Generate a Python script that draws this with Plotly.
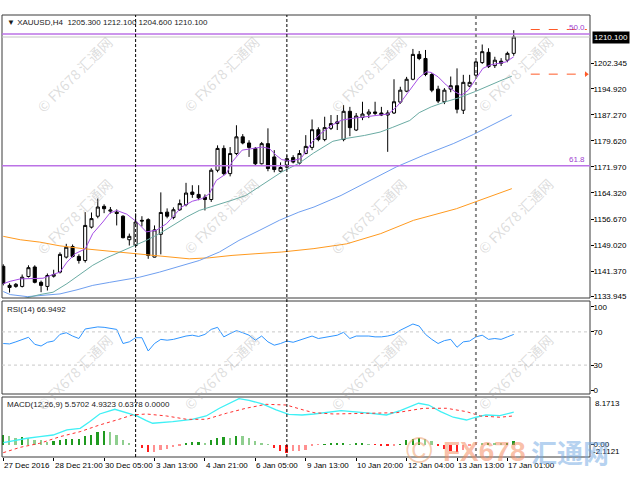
import plotly.graph_objects as go

# ---------------- data ----------------
bars = list(range(82))
opens = [1142.8, 1137.2, 1136.9, 1136.9, 1139.8, 1142.6, 1138.1, 1136.9, 1139.9, 1141.1,
         1145.5, 1148.6, 1145.7, 1144.5, 1154.3, 1157.5, 1160.4, 1159.0, 1158.7, 1157.5,
         1150.6, 1148.9, 1156.3, 1156.5, 1145.5, 1152.2, 1158.7, 1157.1, 1159.4, 1160.9,
         1164.6, 1163.9, 1163.1, 1162.4, 1171.0, 1177.4, 1170.0, 1175.9, 1180.8, 1179.0,
         1177.4, 1172.9, 1178.8, 1174.9, 1170.7, 1171.9, 1174.7, 1173.1, 1175.9, 1177.7,
         1182.9, 1180.0, 1183.3, 1184.7, 1180.0, 1188.3, 1182.8, 1186.5, 1187.5, 1188.1,
         1187.8, 1187.2, 1187.8, 1191.0, 1194.2, 1197.7, 1205.0, 1203.8, 1199.1, 1194.8,
         1191.1, 1194.8, 1195.8, 1188.6, 1195.7, 1198.9, 1202.6, 1205.6, 1201.7, 1203.0,
         1203.3, 1205.3]
highs = [1143.4, 1137.8, 1137.9, 1140.4, 1143.1, 1143.1, 1138.6, 1140.7, 1141.8, 1146.9,
         1149.4, 1149.2, 1146.3, 1158.7, 1158.6, 1162.7, 1161.0, 1160.2, 1159.5, 1157.8,
         1152.4, 1158.3, 1157.5, 1156.9, 1154.8, 1164.5, 1159.8, 1160.1, 1162.4, 1167.3,
         1166.6, 1166.6, 1163.9, 1171.6, 1178.3, 1178.3, 1177.8, 1184.2, 1181.6, 1179.8,
         1177.8, 1179.3, 1183.3, 1176.9, 1173.3, 1175.4, 1175.4, 1176.9, 1181.3, 1185.9,
         1183.6, 1186.7, 1187.2, 1187.2, 1190.1, 1189.6, 1187.8, 1191.1, 1188.9, 1191.1,
         1189.6, 1188.6, 1197.7, 1195.5, 1198.4, 1206.6, 1206.0, 1206.3, 1199.5, 1195.8,
         1195.1, 1198.5, 1200.9, 1199.0, 1199.0, 1203.9, 1207.9, 1206.8, 1204.3, 1203.9,
         1205.8, 1212.1]
lows = [1137.2, 1135.1, 1136.5, 1136.6, 1139.5, 1137.8, 1135.2, 1135.7, 1139.5, 1140.7,
        1145.1, 1145.4, 1143.6, 1143.9, 1153.9, 1156.9, 1158.4, 1158.3, 1154.8, 1151.0,
        1148.9, 1148.3, 1154.5, 1145.0, 1145.4, 1146.3, 1156.9, 1156.6, 1159.1, 1160.4,
        1162.9, 1162.2, 1159.2, 1161.7, 1170.4, 1169.5, 1169.2, 1175.4, 1178.6, 1174.9,
        1172.5, 1172.7, 1170.7, 1170.4, 1170.4, 1171.5, 1173.0, 1172.7, 1175.7, 1176.9,
        1179.5, 1179.5, 1182.8, 1182.8, 1179.5, 1181.0, 1182.5, 1185.7, 1186.3, 1187.2,
        1186.9, 1176.4, 1187.5, 1190.5, 1193.9, 1197.4, 1203.3, 1198.6, 1193.9, 1190.7,
        1190.4, 1193.9, 1187.7, 1187.5, 1195.4, 1198.0, 1202.2, 1201.0, 1201.0, 1201.6,
        1202.7, 1204.6]
closes = [1137.8, 1136.6, 1137.5, 1139.6, 1142.4, 1138.1, 1137.2, 1140.1, 1140.4, 1146.3,
          1148.4, 1145.7, 1144.5, 1154.8, 1156.8, 1160.2, 1159.7, 1159.3, 1158.3, 1151.2,
          1151.6, 1155.8, 1156.1, 1146.0, 1153.5, 1158.6, 1157.5, 1159.4, 1161.2, 1164.3,
          1163.9, 1162.9, 1162.4, 1171.0, 1177.4, 1170.0, 1175.9, 1180.8, 1179.0, 1177.7,
          1172.9, 1178.8, 1171.5, 1171.2, 1171.8, 1174.4, 1173.4, 1175.9, 1178.0, 1182.9,
          1180.0, 1183.5, 1184.7, 1185.2, 1188.3, 1183.5, 1186.9, 1187.5, 1188.1, 1187.7,
          1187.2, 1187.8, 1191.1, 1194.5, 1197.7, 1205.0, 1203.8, 1199.1, 1194.5, 1191.3,
          1194.5, 1195.8, 1188.9, 1196.8, 1196.8, 1202.8, 1205.8, 1201.4, 1203.3, 1202.4,
          1205.3, 1210.1]

tick_bars = [0, 8, 16, 24, 32, 40, 48, 56, 64, 72, 80]
tick_labels = ["27 Dec 2016", "28 Dec 21:00", "30 Dec 05:00", "3 Jan 13:00", "4 Jan 21:00",
               "6 Jan 05:00", "9 Jan 13:00", "10 Jan 20:00", "12 Jan 04:00", "13 Jan 13:00",
               "17 Jan 01:00"]

ma_fast_bar = [0, 1.1, 2.7, 4.7, 6.3, 8.2, 9, 10.1, 11.4, 13, 14.2, 15.8, 16.9, 18, 19.6, 21.2,
               22.7, 24.3, 25.9, 26.9, 28.3, 30, 31.6, 32.7, 33.8, 35.4, 36.3, 37.9, 39.5, 41.1,
               42.2, 43.3, 44.2, 45.7, 47.2, 48, 49, 50.4, 52.1, 53.7, 55.3, 57.5, 59.6, 61.1,
               62.4, 63.3, 64.3, 65.9, 67.1, 67.9, 69, 70.3, 71.7, 72.7, 73.8, 75, 76.1, 77.3,
               78.5, 79.8, 81]
ma_fast = [1137.7, 1138.4, 1139.1, 1139.3, 1139.3, 1140.6, 1141.1, 1144.0, 1146.5, 1147.9,
           1152.4, 1155.8, 1158.4, 1159.2, 1158.1, 1155.8, 1152.9, 1153.4, 1155.3, 1157.3,
           1160.2, 1161.9, 1162.7, 1164.1, 1168.0, 1170.0, 1173.4, 1176.9, 1177.4, 1177.8,
           1177.4, 1175.4, 1174.1, 1173.7, 1174.4, 1176.4, 1179.3, 1181.8, 1184.2, 1185.7,
           1186.2, 1186.7, 1187.2, 1187.5, 1189.6, 1191.5, 1194.0, 1198.0, 1199.9, 1199.7,
           1198.4, 1196.0, 1194.0, 1193.0, 1194.5, 1197.9, 1200.9, 1201.9, 1202.4, 1202.8,
           1204.3]

ma_mid_bar = [1.6, 3.2, 5.8, 7.9, 10.1, 12.2, 14.2, 16.4, 18.5, 20.5, 22.7, 24.8, 26.9, 29.1,
              31.1, 33.8, 36.3, 38.5, 40.1, 42.2, 44.2, 46.9, 49.2, 52.3, 54.3, 57.3, 59.8,
              61.8, 64.5, 66, 67.9, 70.2, 72.2, 74.9, 77.4, 78.8, 80.7]
ma_mid = [1133.1, 1133.3, 1134.5, 1135.2, 1137.7, 1140.6, 1143.1, 1145.3, 1147.0, 1148.6,
          1150.4, 1152.4, 1154.8, 1157.3, 1159.2, 1160.7, 1162.2, 1163.6, 1165.6, 1168.0,
          1170.5, 1173.0, 1176.0, 1179.5, 1180.3, 1181.2, 1182.2, 1183.6, 1185.6, 1187.9,
          1189.6, 1191.1, 1192.2, 1194.1, 1196.2, 1197.2, 1198.6]

ma_slow_bar = [0, 1.1, 3.8, 6.3, 9, 11.7, 14.2, 16.9, 19.6, 21.6, 24.8, 28, 31.1, 34.3, 37.4,
               40.6, 43.8, 46.9, 49.3, 53.6, 58.3, 62.4, 66.7, 71.4, 74.6, 80.7]
ma_slow = [1135.4, 1134.5, 1133.9, 1134.2, 1134.7, 1135.9, 1137.2, 1138.1, 1138.9, 1139.6,
           1141.1, 1142.8, 1144.5, 1147.0, 1150.4, 1153.3, 1156.3, 1158.7, 1160.2, 1163.6,
           1168.0, 1172.0, 1175.4, 1178.8, 1181.5, 1187.2]

ma_long_bar = [0, 2.7, 5.8, 9, 12.6, 16.9, 20.5, 25.9, 29.5, 32.7, 36.3, 40.1, 44.2, 49.3,
               54.5, 59.9, 65.1, 71.9, 75.7, 80.7]
ma_long = [1151.6, 1150.6, 1149.9, 1148.8, 1148.0, 1147.2, 1146.6, 1145.6, 1145.0, 1145.3,
           1146.0, 1146.5, 1147.0, 1148.0, 1149.4, 1152.4, 1156.3, 1159.7, 1162.2, 1165.6]

rsi = [56, 55.5, 58, 61, 63.5, 55, 53, 57.5, 59, 67, 69, 65, 62, 73.5, 75, 76, 75.5, 74.5, 73,
       56, 58, 63, 63, 47, 56, 61, 60, 61, 63, 65, 66, 64.5, 67, 73, 75.5, 64, 68, 71.5, 69,
       66, 60, 65, 58, 54, 56, 59, 57.5, 60, 63, 65, 62, 63.5, 65, 66, 69.5, 62, 65, 65, 65,
       64, 64, 65, 67, 72, 76, 79.5, 77, 67, 61, 56, 59.5, 61, 51.5, 58, 59, 64, 66, 61, 62,
       61, 64, 66.9492]

macd_bar = [0, 1.6, 3.8, 5.8, 7.9, 10.1, 12.2, 13.7, 15.3, 17.7, 19, 21.2, 22.7, 23.7, 26.9,
            30, 32.2, 34.3, 37.4, 39, 41.1, 43.3, 45.3, 47.4, 49.3, 53.6, 57.2, 60.8, 63, 65.9,
            67.5, 69.4, 71.4, 73.5, 75, 76.6, 78.8, 80.7, 81]
macd_main = [0.34, 0.69, 1.10, 1.37, 1.66, 2.52, 2.81, 3.94, 5.26, 6.07, 5.66, 4.92, 4.11, 3.67,
             3.94, 4.35, 4.92, 6.24, 7.9, 7.6, 6.98, 5.95, 5.21, 5.09, 5.26, 5.83, 5.48, 5.09,
             5.83, 7.10, 6.80, 5.66, 4.70, 4.23, 4.70, 5.09, 4.97, 5.48, 5.5702]
signal_bar = [0, 2.7, 5.8, 9, 12.2, 15.3, 18, 20.5, 22.7, 25.9, 29.1, 32.2, 35.4, 38.5, 41.7,
              44.9, 48, 49.3, 52.4, 57.2, 62.4, 66.7, 70.3, 73.5, 75.7, 78.8, 81]
macd_signal = [-1.37, -0.45, 0.24, 1.37, 2.23, 3.38, 4.23, 5.09, 5.26, 4.92, 4.35, 4.35, 5.38,
               6.24, 6.92, 6.80, 5.83, 5.48, 5.26, 5.38, 5.48, 6.24, 6.24, 5.66, 4.92, 4.70,
               4.9323]
macd_hist = [1.71, 1.43, 1.14, 1.31, 1.14, 0.86, 0.74, 0.40, 0.57, 0.86, 0.97, 0.97, 1.03,
             1.43, 1.71, 2.11, 2.28, 2.11, 1.71, 0.74, 0.29, 0.0, -0.57, -1.31, -1.31, -0.97,
             -0.74, -0.40, -0.1, 0.29, 0.40, 0.46, 0.29, 0.74, 1.14, 1.26, 1.14, 1.54, 1.43,
             1.14, 0.57, 0.29, 0.11, -0.57, -1.03, -1.43, -1.14, -1.03, -0.86, -0.17, -0.05,
             0.1, 0.2, 0.25, 0.35, 0.1, 0.15, 0.15, 0.05, -0.05, -0.15, -0.25, -0.15, 0.05,
             0.86, 0.97, 1.14, 0.97, 0.57, -0.29, -0.74, -1.14, -1.31, -0.86, -0.1, 0.29, 0.15,
             0.29, 0.25, 0.15, 0.3, 0.6378]

price_ticks = [1133.945, 1141.370, 1149.020, 1156.670, 1164.320, 1171.970, 1179.620,
               1187.270, 1194.920, 1202.345]
bid_price = 1210.100
fib_levels = [1211.0, 1172.3]
fib_labels = ["50.0", "61.8"]
order_levels = [1212.3, 1199.2]
separator_bars = [21, 45]
marker_bar = 75
rsi_last = 66.9492
macd_title_values = [5.5702, 4.9323, 0.6378, 0.0000]
macd_scale = [-2.1121, 8.1713]

# ---------------- figure ----------------
FONT = "Liberation Sans"
W, H = 630, 490
ML, MR, MT, MB = 2, 38, 15, 33
PH = H - MT - MB
def py(px):
    return (H - MB - px) / PH
def pxx(px):
    return (px - ML) / (W - ML - MR)

dom_main = [py(298), 1.0]
dom_rsi = [py(394), py(301)]
dom_macd = [0.0, py(397)]
xr = [-0.2, 93.1]

fig = go.Figure()

fig.add_trace(go.Candlestick(
    x=bars, open=opens, high=highs, low=lows, close=closes,
    increasing=dict(line=dict(color="black", width=1), fillcolor="white"),
    decreasing=dict(line=dict(color="black", width=1), fillcolor="black"),
    whiskerwidth=0, xaxis="x", yaxis="y", showlegend=False, hoverinfo="skip"))

for bx, vals, col in [(ma_long_bar, ma_long, "#ff9a1f"), (ma_slow_bar, ma_slow, "#6f9ff0"),
                      (ma_mid_bar, ma_mid, "#6aaba3"), (ma_fast_bar, ma_fast, "#a64ee6")]:
    fig.add_trace(go.Scatter(x=bx, y=vals, mode="lines", line=dict(color=col, width=1),
                             xaxis="x", yaxis="y", showlegend=False, hoverinfo="skip"))

for lv in order_levels:
    fig.add_trace(go.Scatter(x=[83.7, 92.6], y=[lv, lv], mode="lines",
                             line=dict(color="#ff5a28", width=1, dash="dash"),
                             xaxis="x", yaxis="y", showlegend=False, hoverinfo="skip"))
fig.add_trace(go.Scatter(x=[92.5], y=[order_levels[1]], mode="markers",
                         marker=dict(symbol="triangle-right", size=5, color="#ff5a28"),
                         xaxis="x", yaxis="y", showlegend=False, hoverinfo="skip"))

fig.add_trace(go.Scatter(x=bars, y=rsi, mode="lines", line=dict(color="#2f95ff", width=1),
                         xaxis="x2", yaxis="y2", showlegend=False, hoverinfo="skip"))

hist_colors = []
for i, v in enumerate(macd_hist):
    prev = macd_hist[i - 1] if i > 0 else v
    if v >= 0:
        hist_colors.append("#1f9a1f" if v >= prev else "#8fce8f")
    else:
        hist_colors.append("#ff1e1e" if v < prev else "#ff9090")
fig.add_trace(go.Bar(x=bars, y=macd_hist, marker=dict(color=hist_colors, line=dict(width=0)),
                     width=0.28, xaxis="x3", yaxis="y3", showlegend=False, hoverinfo="skip"))
fig.add_trace(go.Scatter(x=macd_bar, y=macd_main, mode="lines",
                         line=dict(color="#3ff0f5", width=1.3),
                         xaxis="x3", yaxis="y3", showlegend=False, hoverinfo="skip"))
fig.add_trace(go.Scatter(x=signal_bar, y=macd_signal, mode="lines",
                         line=dict(color="#ff3030", width=1, dash="dot"),
                         xaxis="x3", yaxis="y3", showlegend=False, hoverinfo="skip"))

axis_common = dict(range=xr, showgrid=False, zeroline=False, showline=False,
                   showticklabels=False, fixedrange=True)
tickfont = dict(family=FONT, size=8, color="black")
yax_common = dict(side="right", ticks="outside", ticklen=3, tickcolor="black", tickfont=tickfont,
                  showgrid=False, zeroline=False, fixedrange=True, ticklabelstandoff=-2)
fig.update_layout(
    width=W, height=H, margin=dict(l=ML, r=MR, t=MT, b=MB),
    paper_bgcolor="white", plot_bgcolor="white", bargap=0,
    xaxis=dict(domain=[0, 1], anchor="y", rangeslider=dict(visible=False), **axis_common),
    xaxis2=dict(domain=[0, 1], anchor="y2", matches="x", **axis_common),
    xaxis3=dict(domain=[0, 1], anchor="y3", matches="x", ticks="outside", ticklen=3,
                tickcolor="black", tickvals=tick_bars, **axis_common),
    yaxis=dict(domain=dom_main, anchor="x", range=[1133.5, 1216.56],
               tickvals=price_ticks, ticktext=[f"{v:.3f}" for v in price_ticks], **yax_common),
    yaxis2=dict(domain=dom_rsi, anchor="x2", range=[-4.8, 107.2],
                tickvals=[0, 30, 70, 100], **yax_common),
    yaxis3=dict(domain=dom_macd, anchor="x3", range=macd_scale,
                tickvals=[0], ticktext=["0.00"], **yax_common),
)

shapes = []
for dom in (dom_main, dom_rsi, dom_macd):
    shapes.append(dict(type="rect", xref="paper", yref="paper", x0=0, x1=1, y0=dom[0], y1=dom[1],
                       line=dict(color="#3a3a3a", width=1), layer="above"))
for lv in (70, 30):
    shapes.append(dict(type="line", xref="paper", yref="y2", x0=0, x1=1, y0=lv, y1=lv,
                       line=dict(color="#c8c8c8", width=1, dash="dot")))
shapes.append(dict(type="line", xref="paper", yref="y", x0=0, x1=1, y0=bid_price, y1=bid_price,
                   line=dict(color="#c4c4c4", width=1)))
for lv in fib_levels:
    shapes.append(dict(type="line", xref="paper", yref="y", x0=0, x1=1, y0=lv, y1=lv,
                       line=dict(color="#bb72e6", width=1.5)))
for b in separator_bars:
    shapes.append(dict(type="line", xref="x", yref="paper", x0=b, x1=b, y0=0, y1=1,
                       line=dict(color="black", width=1, dash="3px,2px")))
shapes.append(dict(type="line", xref="x", yref="paper", x0=marker_bar, x1=marker_bar, y0=0, y1=1,
                   line=dict(color="#8a8a8a", width=2, dash="dot")))
fig.update_layout(shapes=shapes)

ann = []
txt = dict(family=FONT, size=8, color="#1a1a1a")
ann.append(dict(xref="paper", yref="paper", x=pxx(5), y=py(22), xanchor="left", yanchor="middle",
                showarrow=False, font=txt,
                text=f"▼ XAUUSD,H4  {opens[-1]:.3f} {highs[-1]:.3f} {lows[-1]:.3f} {closes[-1]:.3f}"))
ann.append(dict(xref="paper", yref="paper", x=pxx(5), y=py(309), xanchor="left", yanchor="middle",
                showarrow=False, font=txt, text=f"RSI(14) {rsi_last:.4f}"))
ann.append(dict(xref="paper", yref="paper", x=pxx(5), y=py(404), xanchor="left", yanchor="middle",
                showarrow=False, font=txt,
                text="MACD(12,26,9) " + " ".join(f"{v:.4f}" for v in macd_title_values)))
for lv, lab in zip(fib_levels, fib_labels):
    ann.append(dict(xref="x", yref="y", x=92.6, y=lv, xanchor="right", yanchor="bottom",
                    showarrow=False, font=dict(family=FONT, size=8, color="#a040d0"), text=lab))
ann.append(dict(xref="paper", yref="y", x=1, y=bid_price, xanchor="left", yanchor="middle",
                xshift=2, showarrow=False, text=f"{bid_price:.3f}", bgcolor="black",
                font=dict(family=FONT, size=8, color="white"), borderpad=1))
ann.append(dict(xref="paper", yref="y3", x=1, y=macd_scale[1], xanchor="left", yanchor="top",
                xshift=3, showarrow=False, text=f"{macd_scale[1]:.4f}", font=tickfont))
ann.append(dict(xref="paper", yref="y3", x=1, y=macd_scale[0], xanchor="left", yanchor="bottom",
                xshift=1, yshift=-1, showarrow=False, text=f"{macd_scale[0]:.4f}", font=tickfont))
for b, lab in zip(tick_bars, tick_labels):
    ann.append(dict(xref="x3", yref="paper", x=b, y=0, xanchor="left", yanchor="top",
                    xshift=-1, yshift=-2, showarrow=False, text=lab, font=tickfont))
for cy in (74, 216, 372):
    for cx in (75, 222, 370, 517):
        ann.append(dict(xref="paper", yref="paper", x=pxx(cx), y=py(cy), showarrow=False,
                        xanchor="center", yanchor="middle",
                        text="© FX678 汇通网", textangle=-45,
                        font=dict(family="Noto Sans CJK SC", size=14,
                                  color="rgba(165,165,165,0.38)")))
ann.append(dict(xref="paper", yref="paper", x=pxx(421), y=py(450), showarrow=False, text="©",
                xanchor="center", yanchor="middle",
                font=dict(family=FONT, size=36, color="rgba(238,160,110,0.55)")))
ann.append(dict(xref="paper", yref="paper", x=pxx(486), y=py(451), showarrow=False,
                text="<b>FX678</b>", xanchor="center", yanchor="middle",
                font=dict(family=FONT, size=28, color="rgba(245,140,95,0.55)")))
ann.append(dict(xref="paper", yref="paper", x=pxx(572), y=py(451), showarrow=False,
                text="<b>汇通网</b>", xanchor="center", yanchor="middle",
                font=dict(family="Noto Sans CJK SC", size=26, color="rgba(110,165,225,0.5)")))
fig.update_layout(annotations=ann)

fig.write_html("out.html", config={"displayModeBar": False},
               post_script="document.body.style.margin='0px';")
